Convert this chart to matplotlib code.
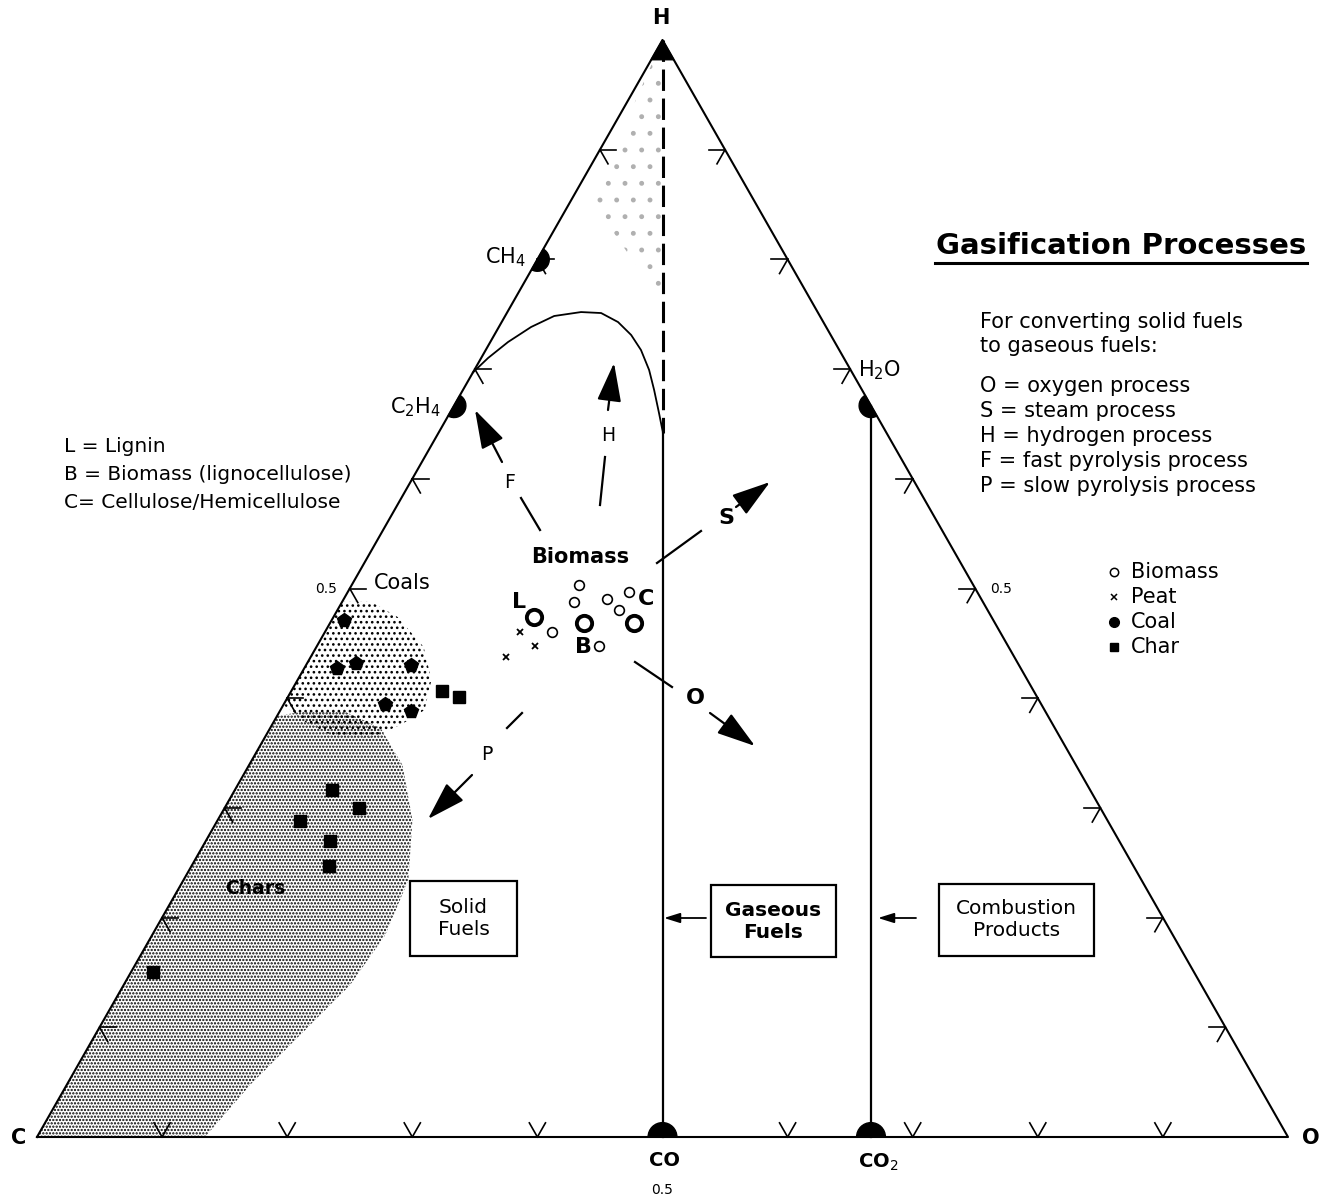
import numpy as np
import matplotlib
matplotlib.use("Agg")
import matplotlib.pyplot as plt
from matplotlib.patches import Polygon, Wedge, Rectangle

plt.rcParams['font.family'] = ['DejaVu Sans']
plt.rcParams['hatch.linewidth'] = 1.1

# ---------------- data: compositions as (H fraction, O fraction); C = 1 - H - O -------------
biomass_h = [0.503, 0.488, 0.490, 0.497, 0.480, 0.460, 0.448]
biomass_o = [0.182, 0.185, 0.211, 0.225, 0.225, 0.182, 0.225]
biomass_bold_h = [0.474, 0.469, 0.469]
biomass_bold_o = [0.160, 0.203, 0.243]
peat_h = [0.460, 0.448, 0.438]
peat_o = [0.156, 0.174, 0.156]
coal_h = [0.471, 0.4275, 0.432, 0.430, 0.395, 0.388]
coal_o = [0.010, 0.026, 0.039, 0.084, 0.081, 0.105]
char_h = [0.407, 0.401, 0.316, 0.300, 0.288, 0.270, 0.247, 0.150]
char_o = [0.120, 0.137, 0.078, 0.107, 0.066, 0.099, 0.110, 0.018]

ref_labels = ['L', 'B', 'C']
ref_h = [0.488, 0.447, 0.490]
ref_o = [0.141, 0.213, 0.242]

species = ['CH$_4$', 'C$_2$H$_4$', 'H$_2$O', 'CO', 'CO$_2$']
species_h = [0.8, 2 / 3, 2 / 3, 0.0, 0.0]
species_o = [0.0, 0.0, 1 / 3, 0.5, 2 / 3]

curve_h = [0.697, 0.7101, 0.7247, 0.7384, 0.7484, 0.7520, 0.7511, 0.7429, 0.7311,
           0.7174, 0.6992, 0.6810, 0.6600, 0.6418]
curve_o = [0.0, 0.0055, 0.0142, 0.0258, 0.0392, 0.0589, 0.0754, 0.0930, 0.1094,
           0.1241, 0.1397, 0.1528, 0.1672, 0.1795]

coal_region_h = [0.488, 0.488, 0.474, 0.4467, 0.4166, 0.3892, 0.3756, 0.3637, 0.3646, 0.3783, 0.3938]
coal_region_o = [0.0, 0.0229, 0.0513, 0.0857, 0.107, 0.1152, 0.1028, 0.0847, 0.0564, 0.0255, 0.0]
char_region_h = [0.3838, 0.3874, 0.3874, 0.3728, 0.3391, 0.289, 0.2343, 0.1841, 0.1386, 0.093, 0.0474, 0.0, 0.0]
char_region_o = [0.0, 0.017, 0.053, 0.0882, 0.1226, 0.1556, 0.1797, 0.1863, 0.181, 0.1639, 0.1466, 0.1343, 0.0]
hyd_region_h = [1.0, 0.854, 0.76]
hyd_region_o = [0.0, 0.016, 0.12]

tick_fracs = [0.1, 0.2, 0.3, 0.4, 0.5, 0.6, 0.7, 0.8, 0.9]

legend_labels = ['Biomass', 'Peat', 'Coal', 'Char']
process_lines = ['O = oxygen process', 'S = steam process', 'H = hydrogen process',
                 'F = fast pyrolysis process', 'P = slow pyrolysis process']
fuel_lines = ['L = Lignin', 'B = Biomass (lignocellulose)', 'C= Cellulose/Hemicellulose']

# ---------------- geometry ----------------
K = 1097 / 1251
FS = 15


def tern(h, o):
    h = np.asarray(h, float)
    o = np.asarray(o, float)
    return o + 0.5 * h, h * K


def lay(x, y):
    """reference layout position (pixels from top-left) -> data coords"""
    return (x - 37) / 1251, (1137 - y) / 1251


fig = plt.figure(figsize=(13.27, 11.99), dpi=100)
ax = fig.add_axes([0, 0, 1, 1])
ax.set_xlim(-37 / 1251, 1290 / 1251)
ax.set_ylim(-62 / 1251, 1137 / 1251)
ax.axis('off')

# shaded regions
for rh, ro, hatch, col in [(char_region_h, char_region_o, '.....', 'black'),
                           (coal_region_h, coal_region_o, '...', 'black'),
                           (hyd_region_h, hyd_region_o, '.', '#b0b0b0')]:
    X, Y = tern(rh, ro)
    ax.add_patch(Polygon(np.column_stack([X, Y]), closed=True, facecolor='none',
                         edgecolor=col, lw=0, hatch=hatch, zorder=1))

# triangle
TX, TY = tern([0, 1, 0, 0], [0, 0, 1, 0])
ax.plot(TX, TY, color='black', lw=1.5, zorder=3)

# tick marks (stubs of grid lines)
L = 0.013
d_base = [(0.5, K), (-0.5, K)]
d_left = [(1.0, 0.0), (0.5, -K)]
d_right = [(-1.0, 0.0), (-0.5, -K)]
for t in tick_fracs:
    for (h, o, dirs) in [(0.0, t, d_base), (t, 0.0, d_left), (t, 1 - t, d_right)]:
        if (h == 0.0 and abs(o - 0.5) < 1e-6):
            continue
        x0, y0 = tern(h, o)
        for dx, dy in dirs:
            n = np.hypot(dx, dy)
            ax.plot([x0, x0 + L * dx / n], [y0, y0 + L * dy / n], color='black', lw=1.2, zorder=3)

# H apex fill
ax.add_patch(Polygon(np.column_stack(tern([1.0, 0.982, 0.982], [0.0, 0.0, 0.018])),
                     closed=True, fc='black', ec='black', zorder=4))

# species half-discs
edge_ang = np.degrees(np.arctan2(K, 0.5))
for name, h, o in zip(species, species_h, species_o):
    x, y = tern(h, o)
    if h == 0:
        th1, th2, r = 0, 180, 0.0115
    elif o == 0:
        th1, th2, r = edge_ang - 180, edge_ang, 0.0095
    else:
        th1, th2, r = 180 - edge_ang, 360 - edge_ang, 0.0095
    ax.add_patch(Wedge((float(x), float(y)), r, th1, th2, fc='black', ec='black', zorder=4))

# CO line (dashed above curve junction, solid below) and CO2-H2O line
hj = curve_h[-1]
ax.plot(*tern([1.0, hj], [0.0, (1 - hj) / 2]), color='black', lw=2.2, dashes=[7, 2.5], zorder=2)
ax.plot(*tern([hj, 0.0], [(1 - hj) / 2, 0.5]), color='black', lw=1.6, zorder=2)
ax.plot(*tern([species_h[2], species_h[4]], [species_o[2], species_o[4]]), color='black', lw=1.6, zorder=2)

# hydrogen process boundary curve
ax.plot(*tern(curve_h, curve_o), color='black', lw=1.3, zorder=2)

# data points
ax.plot(*tern(biomass_h, biomass_o), 'o', mfc='white', mec='black', ms=7, mew=1.2, ls='none', zorder=5)
ax.plot(*tern(biomass_bold_h, biomass_bold_o), 'o', mfc='white', mec='black', ms=11, mew=2.8, ls='none', zorder=5)
ax.plot(*tern(peat_h, peat_o), 'x', color='black', ms=4.5, mew=1.3, ls='none', zorder=5)
ax.plot(*tern(coal_h, coal_o), 'p', color='black', ms=10, ls='none', zorder=5)
ax.plot(*tern(char_h, char_o), 's', color='black', ms=8.5, ls='none', zorder=5)
for lab, h, o in zip(ref_labels, ref_h, ref_o):
    ax.text(*tern(h, o), lab, fontsize=16, fontweight='bold', ha='center', va='center', zorder=6)

# vertex and species labels
ax.text(*lay(661, 18), 'H', fontsize=15, fontweight='bold', ha='center', va='center')
ax.text(*lay(19, 1138), 'C', fontsize=15, fontweight='bold', ha='center', va='center')
ax.text(*lay(1311, 1138), 'O', fontsize=15, fontweight='bold', ha='center', va='center')
ax.text(*lay(664, 1160), 'CO', fontsize=14, fontweight='bold', ha='center', va='center')
ax.text(*lay(878, 1162), 'CO$_2$', fontsize=14, fontweight='bold', ha='center', va='center')
ax.text(*lay(662, 1190), '0.5', fontsize=10, ha='center', va='center')
ax.text(*lay(337, 589), '0.5', fontsize=10, ha='right', va='center')
ax.text(*lay(990, 589), '0.5', fontsize=10, ha='left', va='center')
ax.text(*lay(526, 257), 'CH$_4$', fontsize=FS, ha='right', va='center')
ax.text(*lay(441, 407), 'C$_2$H$_4$', fontsize=FS, ha='right', va='center')
ax.text(*lay(858, 370), 'H$_2$O', fontsize=FS, ha='left', va='center')

# region labels
ax.text(*lay(402, 583), 'Coals', fontsize=FS, ha='center', va='center')
ax.text(*lay(255, 889), 'Chars', fontsize=13.5, fontweight='bold', ha='center', va='center')
ax.text(*lay(580, 557), 'Biomass', fontsize=FS, fontweight='bold', ha='center', va='center')

# process arrows
asty = '-|>,head_length=1.6,head_width=0.5'
arrows = [((540, 530), (521, 498), (510, 482), (502, 462), (475, 410), 'F'),
          ((600, 505), (605, 457), (608, 435), (608, 410), (614, 363), 'H'),
          ((657, 563), (701, 531), (726, 518), (736, 507), (770, 482), 'S'),
          ((635, 662), (672, 687), (695, 698), (710, 713), (755, 746), 'O'),
          ((522, 713), (507, 728), (487, 755), (472, 775), (428, 819), 'P')]
for seg0, seg1, labpos, a0, a1, lab in arrows:
    ax.plot(*zip(lay(*seg0), lay(*seg1)), color='black', lw=1.6)
    ax.annotate('', xy=lay(*a1), xytext=lay(*a0),
                arrowprops=dict(arrowstyle=asty, lw=1.6, color='black', mutation_scale=15,
                                shrinkA=0, shrinkB=0))
    big = lab in ('S', 'O')
    ax.text(*lay(*labpos), lab, fontsize=16 if big else 13.5, fontweight='bold' if big else 'normal',
            ha='center', va='center')

# boxes
for (x0, y0, x1, y1), txt, wt in [((410, 881, 517, 956), 'Solid\nFuels', 'normal'),
                                  ((711, 885, 836, 957), 'Gaseous\nFuels', 'bold'),
                                  ((939, 884, 1094, 956), 'Combustion\nProducts', 'normal')]:
    bx0, by0 = lay(x0, y1)
    bx1, by1 = lay(x1, y0)
    ax.add_patch(Rectangle((bx0, by0), bx1 - bx0, by1 - by0, fill=False, ec='black', lw=1.6))
    ax.text(*lay((x0 + x1) / 2, (y0 + y1) / 2), txt, fontsize=14.5, fontweight=wt,
            ha='center', va='center', linespacing=1.2)
for a0, a1 in [((706, 918), (664, 918)), ((916, 918), (878, 918))]:
    ax.annotate('', xy=lay(*a1), xytext=lay(*a0),
                arrowprops=dict(arrowstyle='-|>,head_length=0.8,head_width=0.25', lw=1.3,
                                color='black', mutation_scale=12, shrinkA=0, shrinkB=0))

# title and explanatory text
ax.text(*lay(1121, 246), 'Gasification Processes', fontsize=21, fontweight='bold', ha='center', va='center')
ax.plot(*zip(lay(935, 263), lay(1307, 263)), color='black', lw=2.2)
ax.text(*lay(980, 322), 'For converting solid fuels', fontsize=FS, ha='left', va='center')
ax.text(*lay(980, 346), 'to gaseous fuels:', fontsize=FS, ha='left', va='center')
for i, line in enumerate(process_lines):
    ax.text(*lay(980, 386 + 25 * i), line, fontsize=FS, ha='left', va='center')
for i, line in enumerate(fuel_lines):
    ax.text(*lay(64, 447 + 27.5 * i), line, fontsize=14.5, ha='left', va='center')

# legend
leg_marks = [dict(marker='o', mfc='white', mec='black', ms=6, mew=1.1),
             dict(marker='x', color='black', ms=5, mew=1.1),
             dict(marker='o', color='black', ms=7),
             dict(marker='s', color='black', ms=6)]
for i, (lab, mk) in enumerate(zip(legend_labels, leg_marks)):
    ax.plot(*lay(1114, 572 + 25 * i), ls='none', **mk)
    ax.text(*lay(1131, 572 + 25 * i), lab, fontsize=FS, ha='left', va='center')

fig.savefig('out.png', dpi=100)
